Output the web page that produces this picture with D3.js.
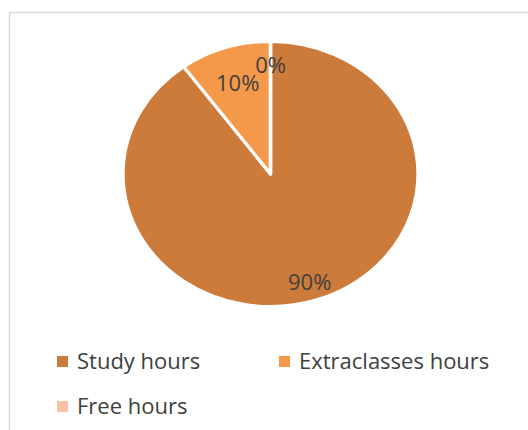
<!DOCTYPE html>
<html>
<head>
<meta charset="utf-8">
<script src="https://cdn.jsdelivr.net/npm/d3@7"></script>
<style>
  body { margin: 0; background: #fff; }
  text { font-family: "Open Sans", sans-serif; fill: #404040; }
</style>
</head>
<body>
<div id="chart"></div>
<script>
// Chart data
const categories = ["Study hours", "Extraclasses hours", "Free hours"];
const shares = [90, 10, 0];
const colors = ["#cc7b3b", "#f4984a", "#f8c2a6"];

const width = 528;
const height = 430;

const svg = d3.select("#chart")
    .append("svg")
    .attr("width", width)
    .attr("height", height);

// Chart area border (runs off the page right and bottom)
svg.append("rect")
    .attr("x", 9.5)
    .attr("y", 12.5)
    .attr("width", 560)
    .attr("height", 460)
    .attr("fill", "none")
    .attr("stroke", "#d9d9d9")
    .attr("stroke-width", 1.5);

// The pie is a little wider than tall in the original
const ry = 132.5;
const rx = 147.5;
const cx = 270.5;
const cy = 174;

const pie = d3.pie().sort(null).value(d => d);
const arcs = pie(shares);
const arc = d3.arc().innerRadius(0).outerRadius(ry);

const g = svg.append("g")
    .attr("transform", `translate(${cx},${cy}) scale(${rx / ry},1)`);

g.selectAll("path")
    .data(arcs)
    .join("path")
    .attr("d", arc)
    .attr("fill", (d, i) => colors[i])
    .attr("stroke", "#fff")
    .attr("stroke-width", 3)
    .attr("stroke-linejoin", "round");

// Percent labels, each at its own distance from the centre
const labelRadius = [0.86, 0.72, 0.82];

svg.append("g")
    .selectAll("text")
    .data(arcs)
    .join("text")
    .attr("transform", (d, i) => {
        const r = ry * labelRadius[i];
        const [x, y] = d3.arc().innerRadius(r).outerRadius(r).centroid(d);
        return `translate(${cx + x * rx / ry},${cy + y})`;
    })
    .attr("text-anchor", "middle")
    .attr("dy", "0.35em")
    .style("font-size", "22px")
    .text(d => d.data + "%");

// Legend
const legendPos = [[57, 361], [279, 361], [57, 406]];

const legend = svg.append("g")
    .selectAll("g")
    .data(categories)
    .join("g")
    .attr("transform", (d, i) => `translate(${legendPos[i][0]},${legendPos[i][1]})`);

legend.append("rect")
    .attr("x", 0)
    .attr("y", -5)
    .attr("width", 11)
    .attr("height", 11)
    .attr("fill", (d, i) => colors[i]);

legend.append("text")
    .attr("x", 20)
    .attr("y", 0)
    .attr("dy", "0.35em")
    .style("font-size", "22px")
    .text(d => d);
</script>
</body>
</html>
